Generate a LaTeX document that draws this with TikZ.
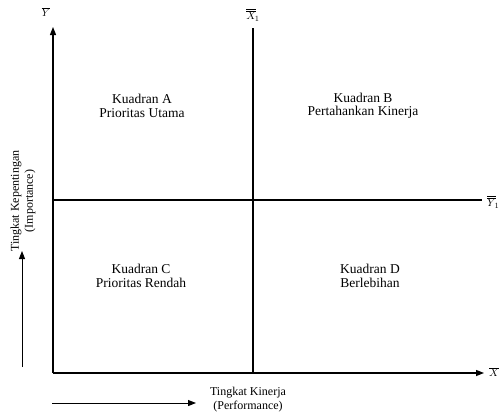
\documentclass[tikz,border=0pt]{standalone}
\usepackage{fontspec}
\setmainfont{Liberation Serif}
\usepackage{tikz}
\usetikzlibrary{arrows.meta, positioning, calc}
\tikzstyle{axis} = [
    line width=1.3pt,
    -{Triangle[length=8pt, width=6pt]},
    color=black
]
\tikzstyle{divider} = [
    line width=1.3pt,
    color=black
]
\tikzstyle{quadrant} = [
    align=center,
    font=\fontsize{13.5}{13.5}\selectfont
]
\tikzstyle{axislabel} = [
    align=center,
    font=\fontsize{12}{14}\selectfont
]
\tikzstyle{mark label} = [
    inner sep=1pt,
    font=\fontsize{11}{12}\selectfont
]

\begin{document}
\begin{tikzpicture}[x=1pt, y=-1pt]
        \useasboundingbox (0,0) rectangle (502,415);
        % Axes
        \coordinate (origin) at (53,373);
        \coordinate (ytop) at (53,27);
        \coordinate (xend) at (484,373);
        \draw[axis] (origin) -- (ytop);
        \draw[axis] (origin) -- (xend);
        \node[mark label] (ybar) at (46,12) {$\overline{Y}$};
        \node[mark label, anchor=west] (xbar) at (488,372) {$\overline{X}$};
        
        % Mean lines
        \coordinate (mxtop) at (253,28);
        \coordinate (mxbot) at (253,373);
        \coordinate (myleft) at (53,200);
        \coordinate (myright) at (482,200);
        \draw[divider] (mxbot) -- (mxtop);
        \draw[divider] (myleft) -- (myright);
        \node[mark label] (xmean) at (253,15) {$\overline{\overline{X}}_{\!1}$};
        \node[mark label, anchor=west] (ymean) at (486,202) {$\overline{\overline{Y}}_{\!1}$};
        
        % Quadrants
        \node[quadrant] (quadA) at (142,106) {Kuadran A\\Prioritas Utama};
        \node[quadrant] (quadB) at (363,106) {Kuadran B\\Pertahankan Kinerja};
        \node[quadrant] (quadC) at (141,276) {Kuadran C\\Prioritas Rendah};
        \node[quadrant] (quadD) at (370,276) {Kuadran D\\Berlebihan};
        
        % Axis captions
        \node[axislabel, rotate=90] (importance) at (23,201) {Tingkat Kepentingan\\(Importance)};
        \node[axislabel] (performance) at (248,400) {Tingkat Kinerja\\(Performance)};
        \coordinate (ltail) at (22,367);
        \coordinate (lhead) at (22,251);
        \coordinate (btail) at (52,403);
        \coordinate (bhead) at (196,403);
        \draw[axis, line width=1pt] (ltail) -- (lhead);
        \draw[axis, line width=1pt] (btail) -- (bhead);
    \end{tikzpicture}
\end{document}
